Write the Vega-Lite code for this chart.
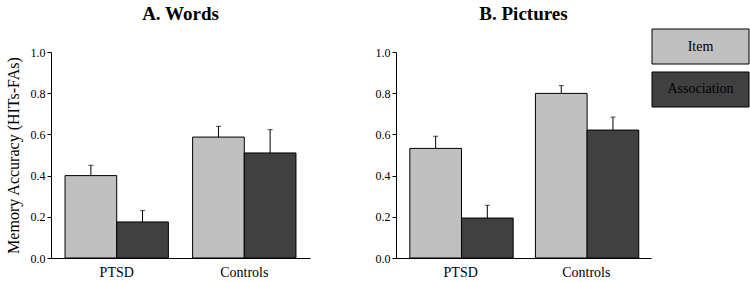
{
  "$schema": "https://vega.github.io/schema/vega-lite/v6.json",
  "padding": {"left": 5, "top": 5, "right": 0, "bottom": 0},
  "background": "white",
  "config": {
    "view": {"stroke": null},
    "font": "'Liberation Serif', 'Times New Roman', serif",
    "title": {"font": "'Liberation Serif', 'Times New Roman', serif", "fontSize": 19, "fontWeight": "bold", "color": "black", "anchor": "middle", "offset": 22},
    "axis": {"labelFont": "'Liberation Serif', 'Times New Roman', serif", "titleFont": "'Liberation Serif', 'Times New Roman', serif", "labelColor": "black", "titleColor": "black", "domainColor": "black", "tickColor": "black", "grid": false},
    "text": {"font": "'Liberation Serif', 'Times New Roman', serif"}
  },
  "datasets": {
    "acc": [
      {"task": "Words", "group": "PTSD", "cond": "Item", "value": 0.400, "hi": 0.450},
      {"task": "Words", "group": "PTSD", "cond": "Association", "value": 0.175, "hi": 0.230},
      {"task": "Words", "group": "Controls", "cond": "Item", "value": 0.587, "hi": 0.639},
      {"task": "Words", "group": "Controls", "cond": "Association", "value": 0.510, "hi": 0.623},
      {"task": "Pictures", "group": "PTSD", "cond": "Item", "value": 0.532, "hi": 0.591},
      {"task": "Pictures", "group": "PTSD", "cond": "Association", "value": 0.194, "hi": 0.256},
      {"task": "Pictures", "group": "Controls", "cond": "Item", "value": 0.799, "hi": 0.837},
      {"task": "Pictures", "group": "Controls", "cond": "Association", "value": 0.621, "hi": 0.684}
    ],
    "key": [
      {"cond": "Item"},
      {"cond": "Association"}
    ]
  },
  "spacing": 65,
  "hconcat": [
    {
      "title": {"text": "A. Words"},
      "width": 259,
      "height": 206,
      "data": {"name": "acc"},
      "transform": [{"filter": "datum.task === 'Words'"}],
      "encoding": {
        "x": {"field": "group", "type": "nominal", "sort": ["PTSD", "Controls"], "title": null,
              "scale": {"paddingInner": 0.19, "paddingOuter": 0.11},
              "axis": {"labelAngle": 0, "ticks": false, "labelFontSize": 14, "labelPadding": 7}},
        "xOffset": {"field": "cond", "type": "nominal", "sort": ["Item", "Association"], "scale": {"padding": 0}}
      },
      "layer": [
        {
          "mark": {"type": "bar", "stroke": "black", "strokeWidth": 1},
          "encoding": {
            "y": {"field": "value", "type": "quantitative", "scale": {"domain": [0, 1]},
                  "title": "Memory Accuracy (HITs-FAs)",
                  "axis": {"values": [0, 0.2, 0.4, 0.6, 0.8, 1.0], "format": ".1f", "labelFontSize": 12, "tickSize": 4, "labelPadding": 2, "titleFontSize": 16, "titleFontWeight": "normal", "titlePadding": 9}},
            "fill": {"field": "cond", "type": "nominal", "scale": {"domain": ["Item", "Association"], "range": ["#c0c0c0", "#404040"]}, "legend": null}
          }
        },
        {
          "mark": {"type": "rule", "color": "black", "strokeWidth": 1},
          "encoding": {"y": {"field": "value", "type": "quantitative"}, "y2": {"field": "hi"}}
        },
        {
          "mark": {"type": "tick", "color": "black", "thickness": 1, "size": 5},
          "encoding": {"y": {"field": "hi", "type": "quantitative"}}
        }
      ]
    },
    {
      "spacing": 0,
      "hconcat": [
        {
          "title": {"text": "B. Pictures"},
          "width": 255,
          "height": 206,
          "data": {"name": "acc"},
          "transform": [{"filter": "datum.task === 'Pictures'"}],
          "encoding": {
            "x": {"field": "group", "type": "nominal", "sort": ["PTSD", "Controls"], "title": null,
                  "scale": {"paddingInner": 0.19, "paddingOuter": 0.11},
                  "axis": {"labelAngle": 0, "ticks": false, "labelFontSize": 14, "labelPadding": 7}},
            "xOffset": {"field": "cond", "type": "nominal", "sort": ["Item", "Association"], "scale": {"padding": 0}}
          },
          "layer": [
            {
              "mark": {"type": "bar", "stroke": "black", "strokeWidth": 1},
              "encoding": {
                "y": {"field": "value", "type": "quantitative", "scale": {"domain": [0, 1]}, "title": null,
                      "axis": {"values": [0, 0.2, 0.4, 0.6, 0.8, 1.0], "format": ".1f", "labelFontSize": 12, "tickSize": 4, "labelPadding": 2}},
                "fill": {"field": "cond", "type": "nominal", "scale": {"domain": ["Item", "Association"], "range": ["#c0c0c0", "#404040"]}, "legend": null}
              }
            },
            {
              "mark": {"type": "rule", "color": "black", "strokeWidth": 1},
              "encoding": {"y": {"field": "value", "type": "quantitative"}, "y2": {"field": "hi"}}
            },
            {
              "mark": {"type": "tick", "color": "black", "thickness": 1, "size": 5},
              "encoding": {"y": {"field": "hi", "type": "quantitative"}}
            }
          ]
        },
        {
          "width": 97,
          "height": 55,
          "data": {"name": "key"},
          "encoding": {
            "y": {"field": "cond", "type": "nominal", "sort": ["Item", "Association"], "axis": null,
                  "scale": {"range": [-23, 55], "paddingInner": 0.186, "paddingOuter": 0}}
          },
          "layer": [
            {
              "mark": {"type": "rect", "stroke": "black", "strokeWidth": 1},
              "encoding": {
                "fill": {"field": "cond", "type": "nominal", "scale": {"domain": ["Item", "Association"], "range": ["#c0c0c0", "#595959"]}, "legend": null}
              }
            },
            {
              "mark": {"type": "text", "fontSize": 14, "color": "black"},
              "encoding": {"text": {"field": "cond", "type": "nominal"}}
            }
          ]
        }
      ]
    }
  ]
}
